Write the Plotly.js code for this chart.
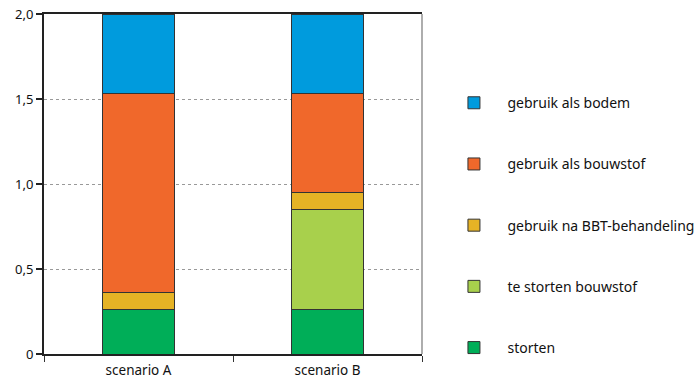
<!DOCTYPE html>
<html><head><meta charset="utf-8">
<script src="https://cdn.plot.ly/plotly-3.0.1.min.js"></script>
<style>html,body{margin:0;padding:0;background:#fff}</style>
</head><body><div id="chart" style="width:698px;height:384px"></div>
<script>
const categories = ["scenario A", "scenario B"];
const storten = [0.26, 0.26];
const teStortenBouwstof = [0, 0.59];
const gebruikNaBBT = [0.10, 0.10];
const gebruikAlsBouwstof = [1.175, 0.58];
const gebruikAlsBodem = [0.465, 0.465];
const seriesNames = ["storten", "te storten bouwstof", "gebruik na BBT-behandeling", "gebruik als bouwstof", "gebruik als bodem"];
const seriesValues = [storten, teStortenBouwstof, gebruikNaBBT, gebruikAlsBouwstof, gebruikAlsBodem];
const seriesColors = ["#00ae58", "#a8d04c", "#e6b325", "#f0682b", "#009bdd"];
const yTickVals = [0, 0.5, 1.0, 1.5, 2.0];
const yTickText = ["0", "0,5", "1,0", "1,5", "2,0"];

const font = "Noto Sans, sans-serif";
const traces = seriesNames.map((n, i) => ({
  type: "bar", name: n, x: categories, y: seriesValues[i],
  legendgroup: "g" + i,
  legendrank: 1000 - i,
  width: 0.386,
  marker: {color: seriesColors[i], line: {color: "#333", width: 1}},
  hoverinfo: "skip"
}));

const layout = {
  width: 698, height: 384,
  margin: {l: 44, r: 276, t: 14, b: 30},
  paper_bgcolor: "#fff", plot_bgcolor: "#fff",
  barmode: "stack",
  font: {family: font, size: 12, color: "#111"},
  xaxis: {
    type: "category", range: [-0.5, 1.5],
    showline: true, linecolor: "#222", linewidth: 2,
    mirror: true,
    ticks: "outside", tickson: "boundaries", ticklen: 6, tickcolor: "#333",
    ticklabelstandoff: 3,
    showgrid: false, zeroline: false,
    tickfont: {family: font, size: 13.5, color: "#111"}
  },
  yaxis: {
    range: [0, 2.0],
    tickvals: yTickVals, ticktext: yTickText,
    showline: true, linecolor: "#222", linewidth: 2,
    ticks: "outside", ticklen: 6, tickcolor: "#222", tickwidth: 1.5,
    showgrid: true, gridcolor: "#999", griddash: "dot", gridwidth: 1,
    zeroline: false,
    tickfont: {family: font, size: 13, color: "#111"}
  },
  shapes: [{type: "line", xref: "paper", yref: "paper", x0: 1, x1: 1, y0: 0, y1: 1,
            line: {color: "#777", width: 1.2}}],
  showlegend: true,
  legend: {
    xref: "container", yref: "container",
    x: 0.631, xanchor: "left", y: 0.773, yanchor: "top",
    maxheight: 380,
    traceorder: "grouped", tracegroupgap: 40, itemwidth: 57,
    font: {family: font, size: 14, color: "#111"},
    bgcolor: "rgba(0,0,0,0)"
  }
};
Plotly.newPlot("chart", traces, layout, {displayModeBar: false, staticPlot: true});
</script></body></html>
